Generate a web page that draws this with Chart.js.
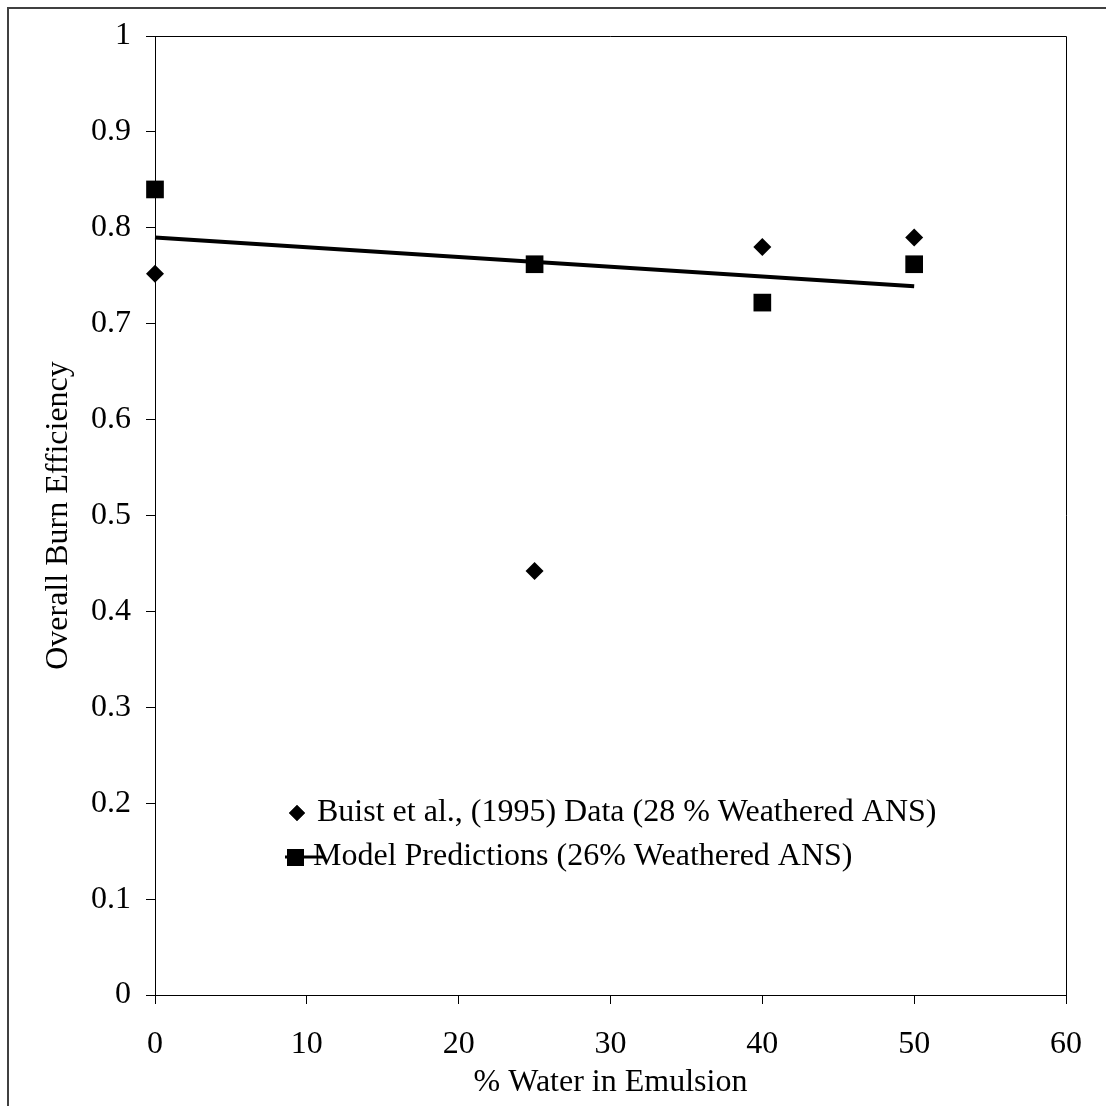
<!DOCTYPE html>
<html>
<head>
<meta charset="utf-8">
<script src="https://cdn.jsdelivr.net/npm/chart.js@4.4.1/dist/chart.umd.min.js"></script>
<style>
  html, body { margin: 0; padding: 0; background: #fff; }
  canvas { display: block; }
</style>
</head>
<body>
<canvas id="myChart" width="1106" height="1106"></canvas>
<script>
// % water in emulsion
const waterPct = [0, 25, 40, 50];
// Buist et al. (1995) measured burn efficiency
const buistEff = [0.752, 0.442, 0.78, 0.79];
// model predictions
const modelEff = [0.84, 0.762, 0.722, 0.762];
// straight line drawn through the model predictions
const trendX = [0, 50];
const trendY = [0.79, 0.739];

const xTicks = [0, 10, 20, 30, 40, 50, 60];
const yTicks = [0, 0.1, 0.2, 0.3, 0.4, 0.5, 0.6, 0.7, 0.8, 0.9, 1];

const serif = '"Liberation Serif", "Times New Roman", serif';
const fontSize = 32;

function toPoints(xs, ys) {
    return xs.map(function(x, i) { return { x: x, y: ys[i] }; });
}

// outer frame, plot box and the legend inside the plot
const framePlugin = {
    id: 'frame',
    beforeDraw: function(chart) {
        const ctx = chart.ctx;
        ctx.save();
        ctx.fillStyle = '#fff';
        ctx.fillRect(0, 0, chart.width, chart.height);
        ctx.strokeStyle = '#404040';
        ctx.lineWidth = 2;
        ctx.strokeRect(8, 8, chart.width + 50, chart.height + 50);
        ctx.restore();
    },
    beforeDatasetsDraw: function(chart) {
        const a = chart.chartArea;
        const ctx = chart.ctx;
        ctx.save();
        ctx.strokeStyle = '#000';
        ctx.lineWidth = 1;
        ctx.beginPath();
        ctx.moveTo(a.left, Math.round(a.top) + 0.5);
        ctx.lineTo(Math.round(a.right) + 0.5, Math.round(a.top) + 0.5);
        ctx.lineTo(Math.round(a.right) + 0.5, a.bottom);
        ctx.stroke();
        ctx.restore();
    },
    afterDraw: function(chart) {
        const ctx = chart.ctx;
        const ds = chart.data.datasets;
        ctx.save();
        ctx.fillStyle = '#000';
        ctx.font = fontSize + 'px ' + serif;
        ctx.textBaseline = 'middle';
        ctx.textAlign = 'left';

        // row 1: diamond
        Chart.helpers.drawPoint(ctx, { pointStyle: 'rectRot', radius: 8, borderWidth: 0 }, 297, 813);
        ctx.fill();
        ctx.fillText(ds[0].label, 317, 813);

        // row 2: square with line
        ctx.fillText(ds[1].label, 313, 857);
        ctx.strokeStyle = '#000';
        ctx.lineWidth = 3;
        ctx.beginPath();
        ctx.moveTo(285, 857);
        ctx.lineTo(325, 857);
        ctx.stroke();
        ctx.fillRect(287, 849, 17, 17);
        ctx.restore();
    }
};

const config = {
    type: 'scatter',
    data: {
        datasets: [{
            label: 'Buist et al., (1995) Data (28 % Weathered ANS)',
            data: toPoints(waterPct, buistEff),
            pointStyle: 'rectRot',
            pointRadius: 9,
            backgroundColor: '#000',
            borderColor: '#000',
            borderWidth: 0,
            clip: false
        }, {
            label: 'Model Predictions (26% Weathered ANS)',
            data: toPoints(waterPct, modelEff),
            pointStyle: 'rect',
            pointRadius: 12.5,
            backgroundColor: '#000',
            borderColor: '#000',
            borderWidth: 0,
            clip: false
        }, {
            label: 'trend',
            data: toPoints(trendX, trendY),
            showLine: true,
            pointRadius: 0,
            borderColor: '#000',
            borderWidth: 4,
            clip: false
        }]
    },
    options: {
        responsive: false,
        animation: false,
        events: [],
        layout: { padding: { left: 0, top: 36, right: 40, bottom: 0 } },
        plugins: {
            legend: { display: false },
            tooltip: { enabled: false }
        },
        scales: {
            x: {
                type: 'linear',
                min: 0,
                max: 60,
                afterBuildTicks: function(scale) {
                    scale.ticks = xTicks.map(function(v) { return { value: v }; });
                },
                afterFit: function(scale) { scale.height = 111; },
                grid: { drawOnChartArea: false, drawTicks: true, tickLength: 9, color: '#000', tickColor: '#000' },
                border: { display: true, color: '#000', width: 1 },
                ticks: { color: '#000', font: { family: serif, size: fontSize }, padding: 21, maxRotation: 0 },
                title: {
                    display: true,
                    text: '% Water in Emulsion',
                    color: '#000',
                    font: { family: serif, size: fontSize },
                    padding: { top: 0, bottom: 4 }
                }
            },
            y: {
                type: 'linear',
                min: 0,
                max: 1,
                afterBuildTicks: function(scale) {
                    scale.ticks = yTicks.map(function(v) { return { value: v }; });
                },
                afterFit: function(scale) { scale.width = 155; },
                grid: { drawOnChartArea: false, drawTicks: true, tickLength: 9, color: '#000', tickColor: '#000' },
                border: { display: true, color: '#000', width: 1 },
                ticks: {
                    color: '#000',
                    font: { family: serif, size: fontSize },
                    padding: 15,
                    callback: function(v) { return String(Math.round(v * 10) / 10); }
                },
                title: {
                    display: true,
                    text: 'Overall Burn Efficiency',
                    color: '#000',
                    font: { family: serif, size: fontSize },
                    padding: { top: 39, bottom: 0 }
                }
            }
        }
    },
    plugins: [framePlugin]
};

var ctx = document.getElementById('myChart').getContext('2d');
var myChart = new Chart(ctx, config);
</script>
</body>
</html>
